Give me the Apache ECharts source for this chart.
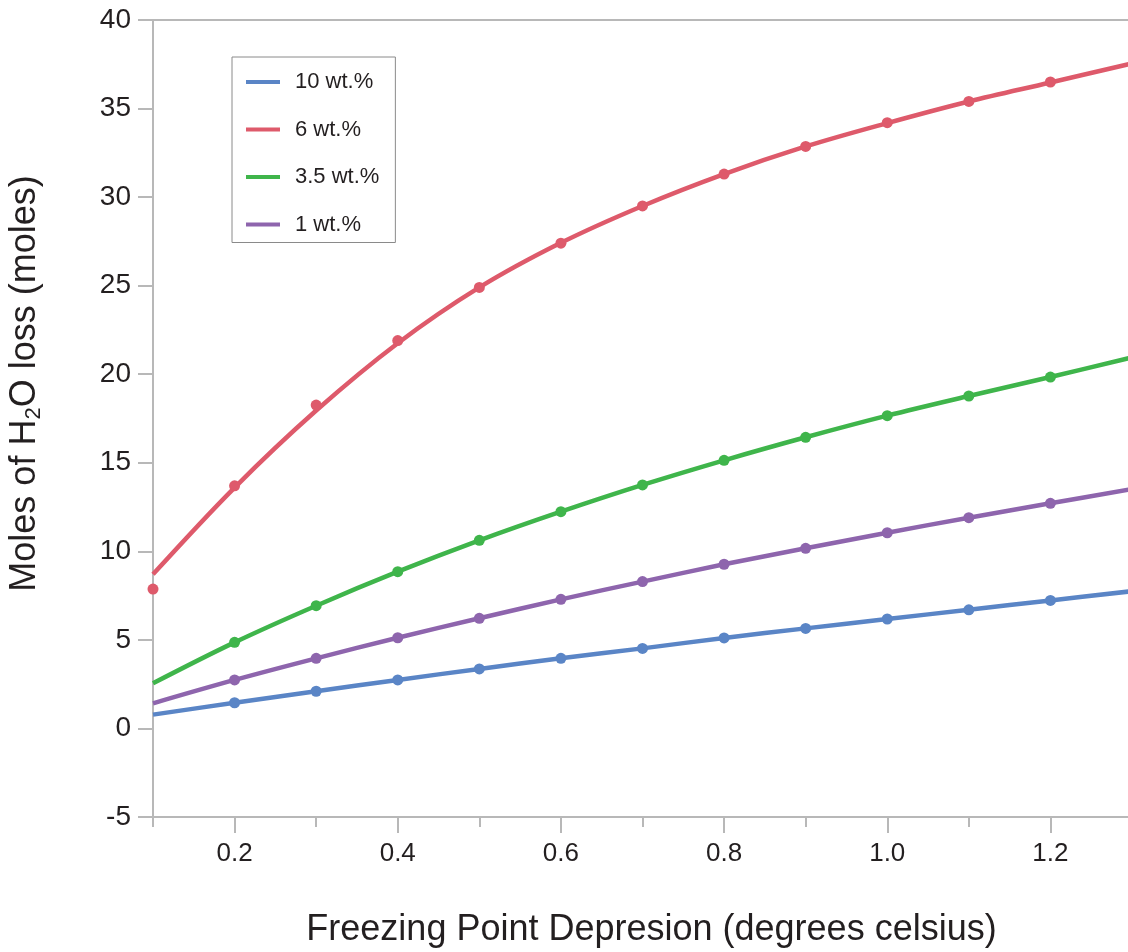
<!DOCTYPE html>
<html>
<head>
<meta charset="utf-8">
<script src="https://cdn.jsdelivr.net/npm/echarts@6/dist/echarts.min.js"></script>
<style>
html,body{margin:0;padding:0;background:#fff;}
#chart{width:1128px;height:952px;}
</style>
</head>
<body>
<div id="chart"></div>
<script>
// ---- data ----
var xValues = [0.1, 0.2, 0.3, 0.4, 0.5, 0.6, 0.7, 0.8, 0.9, 1.0, 1.1, 1.2, 1.3];
var seriesNames = ['10 wt.%', '6 wt.%', '3.5 wt.%', '1 wt.%'];
// fitted curves (through each 0.1 step)
var curve10 = [0.78, 1.45, 2.10, 2.74, 3.36, 3.96, 4.52, 5.11, 5.65, 6.18, 6.70, 7.23, 7.75];
var curve6  = [8.70, 13.60, 17.95, 21.75, 24.90, 27.42, 29.50, 31.30, 32.86, 34.18, 35.40, 36.47, 37.55];
var curve35 = [2.55, 4.86, 6.93, 8.85, 10.62, 12.24, 13.75, 15.14, 16.44, 17.66, 18.77, 19.84, 20.95];
var curve1  = [1.42, 2.74, 3.96, 5.12, 6.22, 7.29, 8.29, 9.27, 10.17, 11.05, 11.90, 12.71, 13.52];
// measured points
var dotX10 = [0.2, 0.3, 0.4, 0.5, 0.6, 0.7, 0.8, 0.9, 1.0, 1.1, 1.2];
var dots10 = [1.45, 2.10, 2.74, 3.36, 3.96, 4.52, 5.11, 5.65, 6.18, 6.70, 7.23];
var dotX6  = [0.1, 0.2, 0.3, 0.4, 0.5, 0.6, 0.7, 0.8, 0.9, 1.0, 1.1, 1.2];
var dots6  = [7.87, 13.70, 18.26, 21.90, 24.90, 27.40, 29.50, 31.30, 32.86, 34.20, 35.40, 36.50];
var dotX35 = [0.2, 0.3, 0.4, 0.5, 0.6, 0.7, 0.8, 0.9, 1.0, 1.1, 1.2];
var dots35 = [4.86, 6.93, 8.85, 10.62, 12.24, 13.75, 15.14, 16.44, 17.66, 18.77, 19.84];
var dotX1  = [0.2, 0.3, 0.4, 0.5, 0.6, 0.7, 0.8, 0.9, 1.0, 1.1, 1.2];
var dots1  = [2.74, 3.96, 5.12, 6.22, 7.29, 8.29, 9.27, 10.17, 11.05, 11.90, 12.71];
var majorTicks = [0.2, 0.4, 0.6, 0.8, 1.0, 1.2];
var minorTicks = [0.1, 0.3, 0.5, 0.7, 0.9, 1.1, 1.3];

// ---- styling ----
var colors = ['#5a85c6', '#de5a6b', '#3fb54b', '#8e65ad'];
var axisGrey = '#b8b8b8';
var textColor = '#231f20';
var font = '"Liberation Sans", Arial, sans-serif';

function pairs(xs, ys) { return xs.map(function (x, i) { return [x, ys[i]]; }); }

var curves = [curve10, curve6, curve35, curve1];
var dotXs = [dotX10, dotX6, dotX35, dotX1];
var dotYs = [dots10, dots6, dots35, dots1];

var series = [];
for (var i = 0; i < 4; i++) {
  series.push({
    name: seriesNames[i], type: 'line', smooth: 0.35, showSymbol: false,
    data: pairs(xValues, curves[i]),
    lineStyle: { color: colors[i], width: 4.5 }, itemStyle: { color: colors[i] },
    z: 3
  });
  series.push({
    name: 'pts' + i, type: 'scatter', symbolSize: 11,
    data: pairs(dotXs[i], dotYs[i]),
    itemStyle: { color: colors[i], opacity: 1 },
    z: 4
  });
}

var chart = echarts.init(document.getElementById('chart'), null, { renderer: 'canvas' });
chart.setOption({
  animation: false,
  backgroundColor: '#fff',
  grid: { left: 153, top: 20, width: 979, bottom: 135, outerBoundsMode: 'none', containLabel: false,
    show: true, borderColor: axisGrey, borderWidth: 2, backgroundColor: 'transparent' },
  legend: {
    data: seriesNames, orient: 'vertical', left: 232, top: 57,
    icon: 'rect', itemWidth: 34, itemHeight: 4, itemGap: 25.5,
    padding: [14, 16, 7, 14],
    borderColor: '#8a8a8a', borderWidth: 1,
    textStyle: { fontFamily: font, fontSize: 22, color: textColor, padding: [0, 0, 0, 10] }
  },
  xAxis: [{
    type: 'value', min: 0.1, max: 1.3, position: 'bottom',
    name: 'Freezing Point Depresion (degrees celsius)', nameLocation: 'middle', nameGap: 95,
    nameTextStyle: { fontFamily: font, fontSize: 36, color: textColor, padding: [0, 0, 0, 18] },
    axisLine: { show: true, onZero: false, lineStyle: { color: axisGrey, width: 2 } },
    axisTick: { show: true, length: 16, lineStyle: { color: axisGrey, width: 2 }, customValues: majorTicks },
    axisLabel: { customValues: majorTicks, margin: 24, fontFamily: font, fontSize: 26, color: textColor,
      formatter: function (v) { return v.toFixed(1); } },
    splitLine: { show: false }
  }, {
    type: 'value', min: 0.1, max: 1.3, position: 'bottom',
    axisLine: { show: false, onZero: false },
    axisTick: { show: true, length: 10, lineStyle: { color: axisGrey, width: 2 }, customValues: minorTicks },
    axisLabel: { show: false },
    splitLine: { show: false }
  }],
  yAxis: {
    type: 'value', min: -5, max: 40, interval: 5,
    name: 'Moles of H{sub|2}O loss (moles)', nameLocation: 'middle', nameGap: 108, nameRotate: 90,
    nameTextStyle: { fontFamily: font, fontSize: 36, color: textColor, padding: [0, 0, 0, 70],
      rich: { sub: { fontFamily: font, fontSize: 22, color: textColor, padding: [18, 0, 0, 0] } } },
    axisLine: { show: true, lineStyle: { color: axisGrey, width: 2 } },
    axisTick: { show: true, length: 15, lineStyle: { color: axisGrey, width: 2 } },
    axisLabel: { margin: 22, fontFamily: font, fontSize: 28, color: textColor },
    splitLine: { show: false }
  },
  series: series
});
</script>
</body>
</html>
